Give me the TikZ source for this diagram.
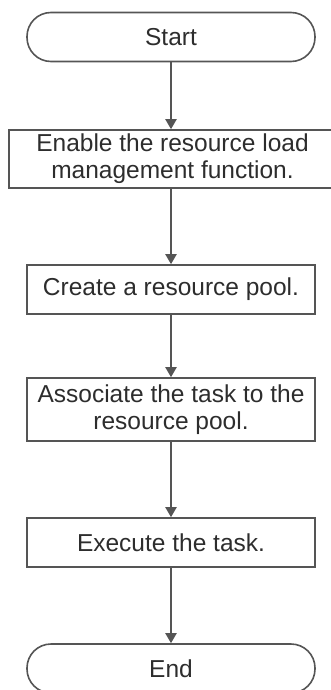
\documentclass[tikz,border=0pt]{standalone}
\usepackage{fontspec}
\setmainfont{Liberation Sans}
\usetikzlibrary{arrows.meta}
\definecolor{linegray}{RGB}{85,85,85}
\definecolor{textgray}{RGB}{45,45,45}

\begin{document}
\begin{tikzpicture}[x=1pt,y=1pt,
  terminal/.style={draw=linegray,line width=1.6pt,rounded corners=24pt,
    minimum width=288pt,minimum height=49pt,inner sep=0pt},
  process/.style={draw=linegray,line width=1.6pt,minimum width=288pt,
    inner sep=0pt,align=center},
  flow/.style={draw=linegray,line width=2pt,-{Triangle[length=10pt,width=11pt]}},
  every node/.style={text=textgray,font=\fontsize{24.5}{27}\selectfont}]

  \useasboundingbox (0,0) rectangle (330,-690);

  % Start and End
  \node[terminal] (start) at (171,-37) {Start};
  \node[terminal] (stop) at (171,-668.5) {End};
  % Steps
  \node[process,minimum width=327pt,minimum height=58pt] (enable) at (172.5,-159)
    {Enable the resource load\\management function.};
  \node[process,minimum height=49pt] (create) at (171,-289.5) {Create a resource pool.};
  \node[process,minimum height=63pt] (assoc) at (171,-409.5)
    {Associate the task to the\\resource pool.};
  \node[process,minimum height=49pt] (exec) at (171,-542.5) {Execute the task.};

  % Arrows
  \draw[flow] (start) -- (start |- enable.north);
  \draw[flow] (start |- enable.south) -- (create);
  \draw[flow] (create) -- (assoc);
  \draw[flow] (assoc) -- (exec);
  \draw[flow] (exec) -- (stop);
\end{tikzpicture}
\end{document}
